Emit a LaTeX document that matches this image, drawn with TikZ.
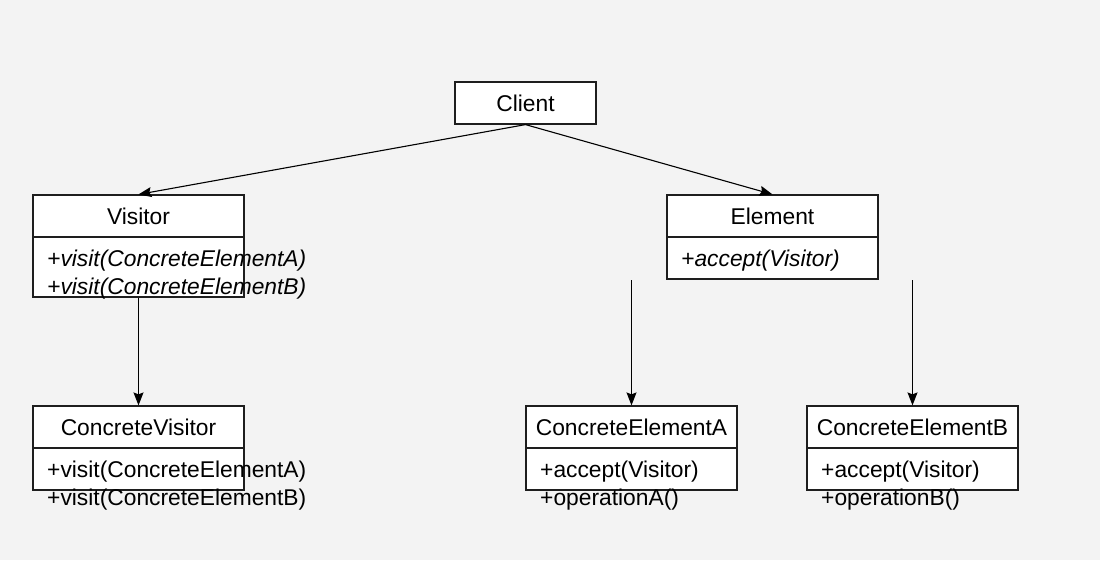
\documentclass[tikz,border=0pt]{standalone}
\usepackage{fontspec}
\setmainfont{Liberation Sans}
\usetikzlibrary{arrows.meta}
\definecolor{bgc}{RGB}{243,243,243}
\definecolor{edge}{RGB}{30,30,30}
\begin{document}
\begin{tikzpicture}[x=1pt,y=-1pt,
  every node/.style={font=\fontsize{22.8}{27}\selectfont},
  cls/.style={draw=edge,fill=white,line width=1.2pt,minimum width=211pt,inner sep=0pt,anchor=center},
  txt/.style={anchor=west,inner sep=0pt,text=black},
  conn/.style={line width=1.1pt,draw=black,-{Stealth[length=13pt,width=10pt,inset=2pt]}}]
\fill[bgc] (0,0) rectangle (1100,560);
\useasboundingbox (0,0) rectangle (1100,560);
% Client
\node[cls,minimum width=141pt,minimum height=42pt] (client) at (525.5,103) {Client};
% Visitor
\node[cls,minimum height=42pt] (visitor) at (138.5,216) {Visitor};
\node[cls,minimum height=60pt] (visitorb) at (138.5,267) {};
\node[txt] (v1) at (47,261) {\itshape +visit(ConcreteElementA)};
\node[txt] (v2) at (47,289) {\itshape +visit(ConcreteElementB)};
% Element
\node[cls,minimum height=42pt] (element) at (772.5,216) {Element};
\node[cls,minimum height=42pt] (elementb) at (772.5,258) {};
\node[txt] (e1) at (681,261) {\itshape +accept(Visitor)};
% ConcreteVisitor
\node[cls,minimum height=42pt] (cv) at (138.5,427) {ConcreteVisitor};
\node[cls,minimum height=42pt] (cvb) at (138.5,469) {};
\node[txt] (cv1) at (47,472) {+visit(ConcreteElementA)};
\node[txt] (cv2) at (47,500) {+visit(ConcreteElementB)};
% ConcreteElementA
\node[cls,minimum height=42pt] (cea) at (631.5,427) {ConcreteElementA};
\node[cls,minimum height=42pt] (ceab) at (631.5,469) {};
\node[txt] (a1) at (540,472) {+accept(Visitor)};
\node[txt] (a2) at (540,500) {+operationA()};
% ConcreteElementB
\node[cls,minimum height=42pt] (ceb) at (912.5,427) {ConcreteElementB};
\node[cls,minimum height=42pt] (cebb) at (912.5,469) {};
\node[txt] (b1) at (821,472) {+accept(Visitor)};
\node[txt] (b2) at (821,500) {+operationB()};
% connectors
\coordinate (sa) at (631.5,280);
\coordinate (sb) at (912.5,280);
\draw[conn] (client.south) -- (visitor.north);
\draw[conn] (client.south) -- (element.north);
\draw[conn] (visitorb.south) -- (cv.north);
\draw[conn] (sa) -- (cea.north);
\draw[conn] (sb) -- (ceb.north);
\end{tikzpicture}
\end{document}
